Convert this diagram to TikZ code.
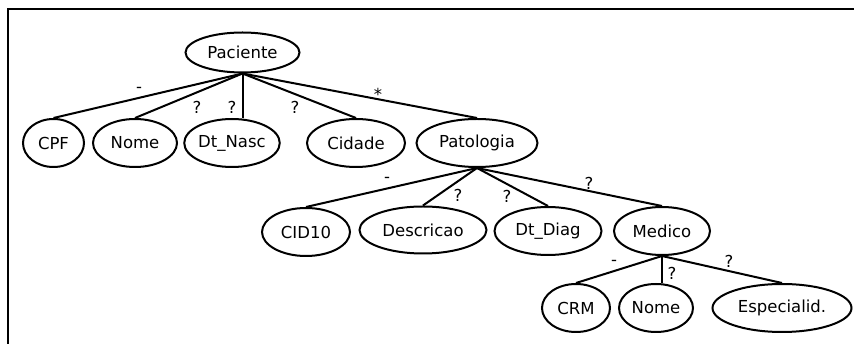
\documentclass[tikz,border=0pt]{standalone}
\usepackage{fontspec}
\setmainfont{DejaVu Sans}
\usetikzlibrary{shapes.geometric}
\begin{document}
\begin{tikzpicture}[x=1pt,y=-1pt,
  line width=2pt,
  every node/.style={font=\fontsize{16.5}{19}\selectfont},
  attr/.style={ellipse,draw,line width=2pt,inner sep=0pt},
  card/.style={inner sep=0pt}]
\useasboundingbox (0,0) rectangle (854,344);
% frame (open on the right and bottom)
\draw (854,9) -- (8,9) -- (8,344);

% root
\node[attr,minimum width=114,minimum height=40] (pac) at (242.5,52.5) {Paciente};

% first level
\node[attr,minimum width=61,minimum height=48]  (cpf)  at (53.5,143) {CPF};
\node[attr,minimum width=84,minimum height=48]  (nome) at (135,143)  {Nome};
\node[attr,minimum width=90,minimum height=48]  (dtn)  at (232,143)  {Dt\_Nasc};
\node[attr,minimum width=98,minimum height=48]  (cid)  at (356,143)  {Cidade};
\node[attr,minimum width=121,minimum height=48] (pat)  at (477,143)  {Patologia};

% second level
\node[attr,minimum width=88,minimum height=48]  (cid10) at (306,232) {CID10};
\node[attr,minimum width=127,minimum height=47] (desc)  at (423,230) {Descricao};
\node[attr,minimum width=107,minimum height=48] (dtd)   at (548,231) {Dt\_Diag};
\node[attr,minimum width=96,minimum height=48]  (med)   at (662,231) {Medico};

% third level
\node[attr,minimum width=68,minimum height=48]  (crm)   at (576,308) {CRM};
\node[attr,minimum width=74,minimum height=48]  (mnome) at (656,308) {Nome};
\node[attr,minimum width=139,minimum height=48] (esp)   at (782,308) {Especialid.};

% connectors
\draw (pac.south) -- (cpf.north);
\draw (pac.south) -- (nome.north);
\draw (pac.south) -- (pac.south |- dtn.north);
\draw (pac.south) -- (cid.north);
\draw (pac.south) -- (pat.north);

\draw (pat.south) -- (cid10.north);
\draw (pat.south) -- (desc.north);
\draw (pat.south) -- (dtd.north);
\draw (pat.south) -- (med.north);

\draw (med.south) -- (crm.north);
\draw (med.south) -- (med.south |- mnome.north);
\draw (med.south) -- (esp.north);

% cardinality marks
\node[card] (c1) at (139,90)  {-};
\node[card] (c2) at (197,107) {?};
\node[card] (c3) at (232,107) {?};
\node[card] (c4) at (295,107) {?};
\node[card] (c5) at (378,94)  {*};

\node[card] (c6) at (387,180) {-};
\node[card] (c7) at (458,195) {?};
\node[card] (c8) at (507,196) {?};
\node[card] (c9) at (589,183) {?};

\node[card] (c10) at (614,263) {-};
\node[card] (c11) at (672,273) {?};
\node[card] (c12) at (729,261) {?};
\end{tikzpicture}
\end{document}
